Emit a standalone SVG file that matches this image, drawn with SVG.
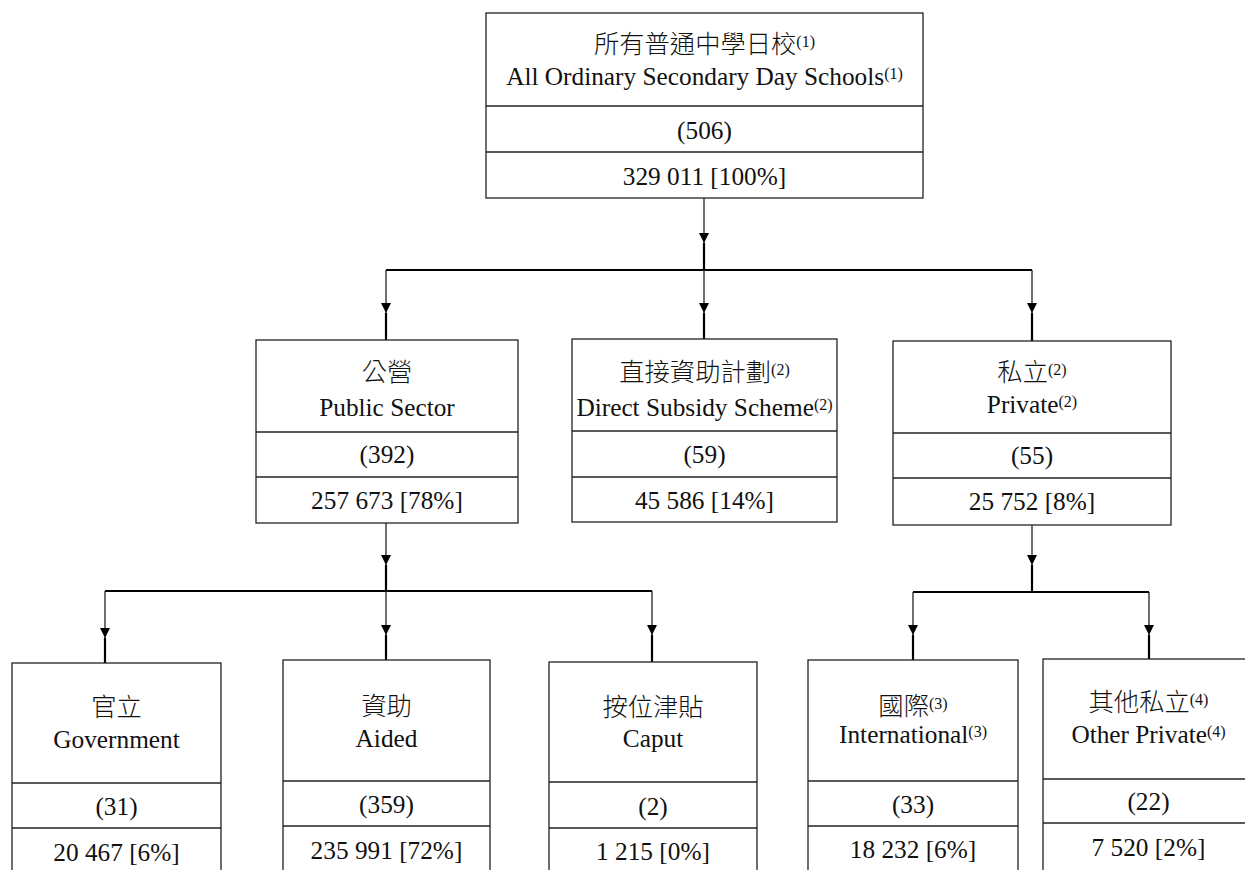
<svg xmlns="http://www.w3.org/2000/svg" width="1245" height="870" viewBox="0 0 1245 870">
<style>
.box{fill:#fff;stroke:#222;stroke-width:1.3}
.div{stroke:#222;stroke-width:1.3}
text{font-family:"Liberation Serif","Times New Roman",serif;font-size:25.3px;fill:#111;text-anchor:middle}
.zh{font-family:"Noto Sans CJK TC","Noto Sans CJK SC",sans-serif;font-weight:300}
.sup{font-family:"Liberation Serif","Times New Roman",serif;font-weight:400;font-size:16px}
.thin{stroke:#222;stroke-width:1.3;fill:none}
.thick{stroke:#000;stroke-width:2.2;fill:none}
</style>
<defs>
<marker id="ah" viewBox="0 0 10 10" refX="10" refY="5" markerWidth="10" markerHeight="10" orient="auto" markerUnits="userSpaceOnUse">
<path d="M0,0 L10,5 L0,10 z" fill="#000"/>
</marker>
</defs>
<rect width="1245" height="870" fill="#fff"/>

<g id="connectors">
<path class="thin" d="M704,198 V243" marker-end="url(#ah)"/>
<path class="thick" d="M704,243 V270 M386,270 H1032"/>
<path class="thin" d="M386,270 V313" marker-end="url(#ah)"/>
<path class="thick" d="M386,313 V340"/>
<path class="thin" d="M704,270 V313" marker-end="url(#ah)"/>
<path class="thick" d="M704,313 V339"/>
<path class="thin" d="M1032,270 V313" marker-end="url(#ah)"/>
<path class="thick" d="M1032,313 V341"/>

<path class="thin" d="M386,523 V565" marker-end="url(#ah)"/>
<path class="thick" d="M386,565 V591 M105,591 H652"/>
<path class="thin" d="M105,591 V638" marker-end="url(#ah)"/>
<path class="thick" d="M105,638 V663"/>
<path class="thin" d="M386,591 V635" marker-end="url(#ah)"/>
<path class="thick" d="M386,635 V660"/>
<path class="thin" d="M652,591 V635" marker-end="url(#ah)"/>
<path class="thick" d="M652,635 V662"/>

<path class="thin" d="M1032,525 V565" marker-end="url(#ah)"/>
<path class="thick" d="M1032,565 V592 M913,592 H1149"/>
<path class="thin" d="M913,592 V635" marker-end="url(#ah)"/>
<path class="thick" d="M913,635 V660"/>
<path class="thin" d="M1149,592 V635" marker-end="url(#ah)"/>
<path class="thick" d="M1149,635 V659"/>
</g>

<g id="all-schools">
<rect class="box" x="486" y="13" width="437" height="185"/>
<line class="div" x1="486" y1="106" x2="923" y2="106"/>
<line class="div" x1="486" y1="152" x2="923" y2="152"/>
<text class="zh" x="704.5" y="53">所有普通中學日校<tspan class="sup" dy="-6">(1)</tspan></text>
<text x="704.5" y="85">All Ordinary Secondary Day Schools<tspan class="sup" dy="-6">(1)</tspan></text>
<text x="704.5" y="139">(506)</text>
<text x="704.5" y="185">329 011 [100%]</text>
</g>

<g id="public-sector">
<rect class="box" x="256" y="340" width="262" height="183"/>
<line class="div" x1="256" y1="432" x2="518" y2="432"/>
<line class="div" x1="256" y1="477" x2="518" y2="477"/>
<text class="zh" x="387" y="381">公營</text>
<text x="387" y="416">Public Sector</text>
<text x="387" y="463">(392)</text>
<text x="387" y="509">257 673 [78%]</text>
</g>

<g id="dss">
<rect class="box" x="572" y="339" width="265" height="183"/>
<line class="div" x1="572" y1="431" x2="837" y2="431"/>
<line class="div" x1="572" y1="477" x2="837" y2="477"/>
<text class="zh" x="704.5" y="381">直接資助計劃<tspan class="sup" dy="-6">(2)</tspan></text>
<text x="704.5" y="416">Direct Subsidy Scheme<tspan class="sup" dy="-6">(2)</tspan></text>
<text x="704.5" y="463">(59)</text>
<text x="704.5" y="509">45 586 [14%]</text>
</g>

<g id="private">
<rect class="box" x="893" y="341" width="278" height="184"/>
<line class="div" x1="893" y1="433" x2="1171" y2="433"/>
<line class="div" x1="893" y1="478" x2="1171" y2="478"/>
<text class="zh" x="1032" y="381">私立<tspan class="sup" dy="-6">(2)</tspan></text>
<text x="1032" y="413">Private<tspan class="sup" dy="-6">(2)</tspan></text>
<text x="1032" y="464">(55)</text>
<text x="1032" y="510">25 752 [8%]</text>
</g>

<g id="government">
<rect class="box" x="12" y="663" width="209" height="220"/>
<line class="div" x1="12" y1="783" x2="221" y2="783"/>
<line class="div" x1="12" y1="828" x2="221" y2="828"/>
<text class="zh" x="116.5" y="716">官立</text>
<text x="116.5" y="748">Government</text>
<text x="116.5" y="815">(31)</text>
<text x="116.5" y="861">20 467 [6%]</text>
</g>

<g id="aided">
<rect class="box" x="283" y="660" width="207" height="220"/>
<line class="div" x1="283" y1="781" x2="490" y2="781"/>
<line class="div" x1="283" y1="826" x2="490" y2="826"/>
<text class="zh" x="386.5" y="715">資助</text>
<text x="386.5" y="747">Aided</text>
<text x="386.5" y="813">(359)</text>
<text x="386.5" y="859">235 991 [72%]</text>
</g>

<g id="caput">
<rect class="box" x="549" y="662" width="208" height="220"/>
<line class="div" x1="549" y1="782" x2="757" y2="782"/>
<line class="div" x1="549" y1="828" x2="757" y2="828"/>
<text class="zh" x="653" y="716">按位津貼</text>
<text x="653" y="747">Caput</text>
<text x="653" y="815">(2)</text>
<text x="653" y="860">1 215 [0%]</text>
</g>

<g id="international">
<rect class="box" x="808" y="660" width="210" height="220"/>
<line class="div" x1="808" y1="781" x2="1018" y2="781"/>
<line class="div" x1="808" y1="826" x2="1018" y2="826"/>
<text class="zh" x="913" y="715">國際<tspan class="sup" dy="-6">(3)</tspan></text>
<text x="913" y="743">International<tspan class="sup" dy="-6">(3)</tspan></text>
<text x="913" y="813">(33)</text>
<text x="913" y="858">18 232 [6%]</text>
</g>

<g id="other-private">
<rect class="box" x="1043" y="659" width="211" height="220"/>
<line class="div" x1="1043" y1="779" x2="1254" y2="779"/>
<line class="div" x1="1043" y1="823" x2="1254" y2="823"/>
<text class="zh" x="1148.5" y="711">其他私立<tspan class="sup" dy="-6">(4)</tspan></text>
<text x="1148.5" y="743">Other Private<tspan class="sup" dy="-6">(4)</tspan></text>
<text x="1148.5" y="810">(22)</text>
<text x="1148.5" y="856">7 520 [2%]</text>
</g>
</svg>
